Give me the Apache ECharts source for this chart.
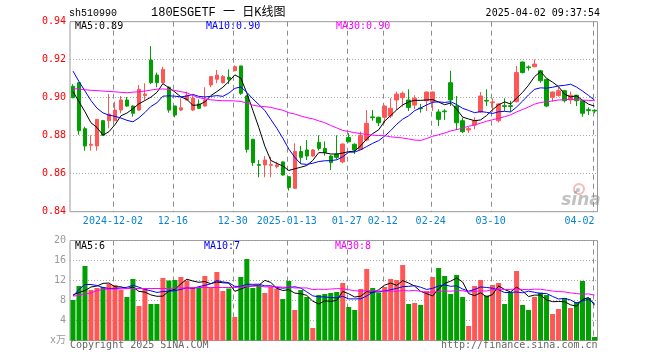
<!DOCTYPE html>
<html><head><meta charset="utf-8">
<script src="https://cdn.jsdelivr.net/npm/echarts/dist/echarts.min.js"></script>
<style>html,body{margin:0;padding:0;background:#fff}#c{width:660px;height:360px}</style>
</head><body><div id="c"></div>
<script>
const categories = ['2024-11-21','2024-11-22','2024-11-25','2024-11-26','2024-11-27','2024-11-28','2024-11-29',
'2024-12-02','2024-12-03','2024-12-04','2024-12-05','2024-12-06','2024-12-09','2024-12-10','2024-12-11','2024-12-12','2024-12-13',
'2024-12-16','2024-12-17','2024-12-18','2024-12-19','2024-12-20','2024-12-23','2024-12-24','2024-12-25','2024-12-26','2024-12-27',
'2024-12-30','2024-12-31','2025-01-02','2025-01-03','2025-01-06','2025-01-07','2025-01-08','2025-01-09','2025-01-10',
'2025-01-13','2025-01-14','2025-01-15','2025-01-16','2025-01-17','2025-01-20','2025-01-21','2025-01-22','2025-01-23','2025-01-24',
'2025-01-27','2025-02-05','2025-02-06','2025-02-07','2025-02-10','2025-02-11',
'2025-02-12','2025-02-13','2025-02-14','2025-02-17','2025-02-18','2025-02-19','2025-02-20','2025-02-21',
'2025-02-24','2025-02-25','2025-02-26','2025-02-27','2025-02-28','2025-03-03','2025-03-04','2025-03-05','2025-03-06','2025-03-07',
'2025-03-10','2025-03-11','2025-03-12','2025-03-13','2025-03-14','2025-03-17','2025-03-18','2025-03-19','2025-03-20','2025-03-21',
'2025-03-24','2025-03-25','2025-03-26','2025-03-27','2025-03-28','2025-03-31','2025-04-01','2025-04-02'];

const openP = [0.9060,0.9079,0.8837,0.8750,0.8746,0.8879,0.8879,0.8879,0.8935,0.8988,
0.8956,0.8935,0.9011,0.9198,0.9119,0.9079,0.9055,0.8956,0.8935,0.8988,
0.8935,0.8967,0.8956,0.9067,0.9097,0.9079,0.9108,0.9142,0.9167,0.9009,
0.8781,0.8648,0.8646,0.8644,0.8637,0.8662,0.8584,0.8523,0.8717,0.8725,
0.8693,0.8765,0.8733,0.8693,0.8704,0.8662,0.8791,0.8755,0.8728,0.8777,
0.8899,0.8897,0.8897,0.8904,0.8988,0.9000,0.8988,0.8961,0.8946,0.8984,
0.8979,0.8925,0.8930,0.9079,0.8956,0.8879,0.8830,0.8856,0.8925,0.8986,
0.8974,0.8879,0.8958,0.8958,0.8979,0.9188,0.9162,0.9163,0.9142,0.9097,
0.9002,0.9011,0.9037,0.8988,0.9013,0.8984,0.8937,0.8934];
const closeP = [0.9000,0.8826,0.8746,0.8755,0.8886,0.8802,0.8914,0.8935,0.8988,0.8956,
0.8918,0.9044,0.9019,0.9079,0.9079,0.9149,0.8935,0.8909,0.8947,0.9013,
0.8997,0.8944,0.8988,0.9111,0.9119,0.9111,0.9097,0.9163,0.9023,0.8728,
0.8658,0.8644,0.8672,0.8648,0.8646,0.8593,0.8528,0.8717,0.8686,0.8693,
0.8725,0.8733,0.8712,0.8658,0.8686,0.8756,0.8768,0.8725,0.8802,0.8865,
0.8895,0.8868,0.8956,0.8944,0.9019,0.9023,0.8949,0.8997,0.8942,0.9030,
0.9030,0.8886,0.8926,0.8988,0.8868,0.8821,0.8837,0.8879,0.9009,0.8982,
0.8978,0.8967,0.8954,0.8954,0.9132,0.9132,0.9158,0.9177,0.9089,0.8956,
0.9030,0.9037,0.8984,0.9013,0.8984,0.8918,0.8933,0.8930];
const lowP = [0.8997,0.8804,0.8721,0.8721,0.8721,0.8800,0.8839,0.8877,0.8918,0.8952,
0.8900,0.8930,0.8988,0.9072,0.9055,0.9075,0.8921,0.8897,0.8930,0.8985,
0.8930,0.8940,0.8953,0.9055,0.9076,0.9075,0.9072,0.9140,0.9015,0.8711,
0.8641,0.8581,0.8581,0.8581,0.8628,0.8590,0.8511,0.8520,0.8653,0.8672,
0.8690,0.8722,0.8695,0.8619,0.8675,0.8655,0.8765,0.8704,0.8725,0.8770,
0.8879,0.8851,0.8865,0.8893,0.8935,0.8953,0.8930,0.8940,0.8921,0.8930,
0.8930,0.8851,0.8883,0.8956,0.8830,0.8814,0.8814,0.8834,0.8920,0.8956,
0.8925,0.8870,0.8930,0.8925,0.8975,0.9128,0.9142,0.9160,0.9079,0.8950,
0.8979,0.9005,0.8975,0.8967,0.8956,0.8900,0.8909,0.8918];
const highP = [0.9071,0.9084,0.8847,0.8802,0.8886,0.8882,0.9019,0.8979,0.9009,0.9004,
0.8960,0.9067,0.9076,0.9272,0.9132,0.9163,0.9060,0.8958,0.8997,0.9032,
0.9013,0.8991,0.9055,0.9113,0.9146,0.9119,0.9149,0.9170,0.9167,0.9015,
0.8783,0.8672,0.8693,0.8689,0.8663,0.8665,0.8586,0.8760,0.8746,0.8777,
0.8730,0.8802,0.8770,0.8700,0.8802,0.8760,0.8813,0.8760,0.8822,0.8935,
0.8935,0.8900,0.8960,0.8997,0.9032,0.9032,0.9044,0.9013,0.8967,0.9032,
0.9032,0.8939,0.8939,0.9142,0.9009,0.8895,0.8847,0.8897,0.9030,0.9044,
0.8997,0.8970,0.8997,0.8984,0.9167,0.9190,0.9170,0.9202,0.9145,0.9100,
0.9032,0.9055,0.9040,0.9032,0.9015,0.8988,0.8949,0.8939];

const ma5P = [0.9032,0.8979,0.8926,0.8868,0.8843,0.8803,0.8821,0.8858,0.8905,0.8919,
0.8942,0.8968,0.8985,0.9003,0.9028,0.9074,0.9052,0.9030,0.9004,0.8991,
0.8960,0.8962,0.8978,0.9011,0.9032,0.9055,0.9085,0.9120,0.9103,0.9024,
0.8934,0.8843,0.8745,0.8670,0.8654,0.8641,0.8617,0.8626,0.8634,0.8643,
0.8670,0.8711,0.8710,0.8704,0.8703,0.8709,0.8716,0.8719,0.8747,0.8783,
0.8811,0.8831,0.8877,0.8906,0.8936,0.8962,0.8978,0.8986,0.8986,0.8988,
0.8990,0.8977,0.8963,0.8972,0.8940,0.8898,0.8888,0.8879,0.8883,0.8906,
0.8937,0.8963,0.8978,0.8967,0.8997,0.9028,0.9066,0.9111,0.9138,0.9102,
0.9082,0.9058,0.9019,0.9004,0.9010,0.8987,0.8966,0.8956];
const ma10P = [0.9140,0.9085,0.9035,0.8985,0.8945,0.8920,0.8908,0.8902,0.8893,0.8881,
0.8873,0.8894,0.8922,0.8954,0.8973,0.9008,0.9010,0.9008,0.9004,0.9009,
0.9017,0.9007,0.9004,0.9007,0.9011,0.9007,0.9024,0.9049,0.9057,0.9028,
0.8994,0.8964,0.8933,0.8886,0.8839,0.8787,0.8730,0.8686,0.8652,0.8649,
0.8655,0.8664,0.8668,0.8669,0.8673,0.8689,0.8713,0.8714,0.8726,0.8743,
0.8760,0.8774,0.8798,0.8827,0.8860,0.8887,0.8905,0.8932,0.8946,0.8962,
0.8976,0.8978,0.8975,0.8979,0.8964,0.8944,0.8933,0.8921,0.8927,0.8923,
0.8917,0.8926,0.8928,0.8925,0.8951,0.8982,0.9015,0.9044,0.9052,0.9050,
0.9055,0.9062,0.9065,0.9071,0.9056,0.9035,0.9012,0.8987];
const ma30P = [0.9048,0.9045,0.9042,0.9039,0.9037,0.9035,0.9033,0.9031,0.9028,0.9026,
0.9029,0.9032,0.9035,0.9040,0.9045,0.9046,0.9043,0.9038,0.9032,0.9025,
0.9012,0.9000,0.8994,0.8989,0.8986,0.8984,0.8984,0.8983,0.8980,0.8973,
0.8961,0.8955,0.8953,0.8949,0.8941,0.8934,0.8921,0.8914,0.8904,0.8895,
0.8889,0.8878,0.8868,0.8854,0.8841,0.8828,0.8822,0.8816,0.8811,0.8807,
0.8803,0.8801,0.8800,0.8794,0.8791,0.8788,0.8783,0.8777,0.8775,0.8785,
0.8797,0.8805,0.8814,0.8825,0.8832,0.8840,0.8850,0.8856,0.8866,0.8876,
0.8884,0.8892,0.8900,0.8910,0.8925,0.8938,0.8951,0.8966,0.8975,0.8978,
0.8983,0.8988,0.8989,0.8992,0.8990,0.8987,0.8986,0.8984];

const volume = [8.1,10.9,14.9,10.1,10.5,10.7,11.3,11.1,10.1,8.7,
12.3,6.9,10.4,7.3,7.3,12.5,12.0,12.1,12.7,12.0,
10.7,10.7,12.9,10.5,13.7,9.9,10.4,4.7,12.7,16.3,
10.5,11.1,9.5,10.7,10.4,8.3,11.9,6.1,10.1,8.7,
2.5,9.1,9.3,9.5,9.7,11.5,6.7,6.1,10.3,14.3,
10.5,9.6,10.7,12.3,12.1,15.1,7.3,7.5,7.1,9.9,
12.7,14.5,12.9,9.3,13.1,8.7,2.9,10.9,12.1,9.0,
11.1,11.5,7.3,9.6,13.9,7.1,6.1,8.7,9.6,9.1,
5.3,6.3,8.5,6.5,7.7,11.9,8.5,0.7];
const ma5V = [9.1,9.6,10.0,10.7,10.9,11.42,11.5,10.74,10.74,10.38,
10.7,9.82,9.68,9.12,8.84,8.88,9.9,10.24,11.32,12.26,
11.9,11.64,11.8,11.36,11.7,11.54,11.48,9.84,10.28,10.8,
10.92,11.06,12.02,11.62,10.44,10.0,10.16,9.48,9.36,9.02,
7.86,7.3,7.94,7.82,8.02,9.82,9.34,8.7,8.86,9.78,
9.58,10.16,11.08,11.48,11.04,11.96,11.5,10.86,9.82,9.38,
8.9,10.34,11.42,11.86,12.5,11.7,9.38,8.98,9.54,8.72,
9.2,10.92,10.2,9.7,10.68,9.88,8.8,9.08,9.08,8.12,
7.76,7.8,7.76,7.14,6.86,8.18,8.62,7.06];
const ma10V = [8.9,10.2,11.2,11.2,11.0,10.6,10.4,10.4,10.5,10.64,
11.06,10.66,10.21,9.93,9.61,9.79,9.86,9.96,10.22,10.55,
10.39,10.77,11.02,11.34,11.98,11.72,11.56,10.82,10.82,11.25,
11.23,11.27,10.93,10.95,10.62,10.46,10.61,10.75,10.49,9.73,
8.93,8.73,8.71,8.59,8.52,8.84,8.32,8.32,8.34,8.9,
9.7,9.75,9.89,10.17,10.41,10.77,10.83,10.97,10.65,10.21,
10.43,10.92,11.14,10.84,10.94,10.3,9.86,10.2,10.7,10.61,
10.45,10.15,9.59,9.62,9.7,9.54,9.86,9.64,9.39,9.4,
8.82,8.3,8.42,8.11,7.49,7.97,8.21,7.41];
const ma30V = [8.9,9.0,9.3,9.5,10.0,10.2,10.3,10.3,10.3,10.4,
10.4,10.4,10.4,10.4,10.4,10.4,10.4,10.5,10.5,10.5,
10.5,10.6,10.6,10.6,10.6,10.6,10.6,10.6,10.7,10.81,
10.89,10.9,10.72,10.74,10.74,10.66,10.68,10.51,10.51,10.51,
10.18,10.26,10.22,10.29,10.37,10.34,10.16,9.96,9.88,9.96,
9.95,9.92,9.84,9.9,9.85,10.02,9.92,10.01,9.83,9.61,
9.69,9.8,9.91,9.87,9.96,9.97,9.67,9.83,9.9,9.91,
10.19,10.27,10.21,10.21,10.35,10.2,10.18,10.27,10.25,10.07,
9.9,9.79,9.72,9.52,9.38,9.27,9.31,9.08];

const tickDates = ['2024-12-02','2024-12-16','2024-12-30','2025-01-13','2025-01-27','2025-02-12','2025-02-24','2025-03-10','2025-04-02'];
const tickTexts = ['2024-12-02','12-16','12-30','2025-01-13','01-27','02-12','02-24','03-10','04-02'];
const priceRange = [0.84, 0.94, 0.02];
const volumeRange = [0, 20, 4];

const RED = '#ff5656', GREEN = '#00a000';
const MONO = '"DejaVu Sans Mono", monospace';
const GRID_L = 70, GRID_W = 527.5;

const chart = echarts.init(document.getElementById('c'));
const isTick = (i, v) => tickDates.indexOf(v) >= 0;
const txt = (text, x, y, fill, font, align) => ({
  type: 'text', x: x, y: y, silent: true,
  style: {text: text, fill: fill, font: font, textAlign: align || 'left', textVerticalAlign: 'middle'}
});
const line = (data, color, xi) => ({
  type: 'line', data: data, xAxisIndex: xi, yAxisIndex: xi, symbol: 'none', silent: true,
  lineStyle: {color: color, width: 1}
});
// vertical dashed date lines: anchored on each tick date's own series value, x from the category axis
const dateLines = (xi, series) => ({
  type: 'custom', xAxisIndex: xi, yAxisIndex: xi,
  data: tickDates.map(d => [d, series[categories.indexOf(d)]]),
  encode: {x: 0, y: 1},
  renderItem: function (params, api) {
    const cs = params.coordSys;
    const x = Math.round(api.coord([api.value(0), api.value(1)])[0] - 2) + 0.5;
    const segs = [];
    for (let y = cs.y; y < cs.y + cs.height; y += 9) {
      segs.push({type: 'line', shape: {x1: x, y1: y, x2: x, y2: Math.min(y + 5, cs.y + cs.height)},
        style: {stroke: '#8c8c8c', lineWidth: 1}});
    }
    return {type: 'group', children: segs};
  }
});

chart.setOption({
  animation: false,
  grid: [
    {left: GRID_L, top: 21.7, width: GRID_W, height: 190, show: true, borderColor: '#999', borderWidth: 1},
    {left: GRID_L, top: 240.5, width: GRID_W, height: 100, show: true, borderColor: '#999', borderWidth: 1}
  ],
  xAxis: [
    {type: 'category', gridIndex: 0, data: categories, boundaryGap: true,
     axisLine: {show: false}, axisTick: {show: false}, splitLine: {show: false},
     axisLabel: {show: true, interval: isTick, margin: 5, color: '#0a84d0', fontFamily: MONO, fontSize: 10,
       formatter: function (v) {
         const j = tickDates.indexOf(v);
         return j === tickDates.length - 1 ? '{e|' + tickTexts[j] + '}' : '{n|' + tickTexts[j] + '}';
       },
       rich: {
         n: {color: '#0a84d0', fontFamily: MONO, fontSize: 10, padding: [0, 4, 0, 0]},
         e: {color: '#0a84d0', fontFamily: MONO, fontSize: 10, padding: [0, 30, 0, 0]}
       }}},
    {type: 'category', gridIndex: 1, data: categories, boundaryGap: true,
     axisLine: {show: false}, axisTick: {show: false}, splitLine: {show: false}, axisLabel: {show: false}}
  ],
  yAxis: [
    {type: 'value', gridIndex: 0, min: priceRange[0], max: priceRange[1], interval: priceRange[2], scale: true,
     axisLine: {show: false}, axisTick: {show: false},
     splitLine: {show: true, lineStyle: {color: '#aaa', width: 1, type: [1, 2]}},
     axisLabel: {color: '#f00', fontFamily: MONO, fontSize: 10, margin: 4, showMinLabel: true, showMaxLabel: true,
       formatter: v => v.toFixed(2)}},
    {type: 'value', gridIndex: 1, min: volumeRange[0], max: volumeRange[1], interval: volumeRange[2],
     axisLine: {show: false}, axisTick: {show: false},
     splitLine: {show: true, lineStyle: {color: '#aaa', width: 1, type: [1, 2]}},
     axisLabel: {color: '#999', fontFamily: MONO + ', "Noto Sans CJK SC"', fontSize: 10, margin: 4,
       showMinLabel: true, showMaxLabel: true,
       formatter: v => v === 0 ? 'x万' : String(v)}}
  ],
  series: [
    dateLines(0, ma30P),
    dateLines(1, ma30V),
    {type: 'candlestick', xAxisIndex: 0, yAxisIndex: 0, barWidth: 4, clip: true, silent: true,
     data: categories.map((c, i) => [openP[i], closeP[i], lowP[i], highP[i]]),
     itemStyle: {color: RED, color0: GREEN, borderColor: RED, borderColor0: GREEN, borderWidth: 1}},
    line(ma5P, '#000', 0), line(ma10P, '#0000ff', 0), line(ma30P, '#ff00ff', 0),
    {type: 'bar', xAxisIndex: 1, yAxisIndex: 1, barWidth: 5, silent: true,
     data: volume,
     itemStyle: {color: p => closeP[p.dataIndex] >= openP[p.dataIndex] ? RED : GREEN}},
    line(ma5V, '#000', 1), line(ma10V, '#0000ff', 1), line(ma30V, '#ff00ff', 1)
  ],
  graphic: [
    txt('sh510990', 69, 13, '#000', '10px "Liberation Mono", monospace'),
    txt('180ESGETF 一 日K线图', 151, 13, '#000', '12px "Liberation Mono", "Noto Sans CJK SC"'),
    txt('2025-04-02 09:37:54', 600, 13, '#000', '10px ' + MONO, 'right'),
    txt('MA5:0.89', 75, 26.5, '#000', '10px ' + MONO),
    txt('MA10:0.90', 206, 26.5, '#0000ff', '10px ' + MONO),
    txt('MA30:0.90', 336, 26.5, '#ff00ff', '10px ' + MONO),
    txt('MA5:6', 75, 246.5, '#000', '10px ' + MONO),
    txt('MA10:7', 204, 246.5, '#0000ff', '10px ' + MONO),
    txt('MA30:8', 335, 246.5, '#ff00ff', '10px ' + MONO),
    txt('Copyright 2025 SINA.COM', 70, 345.5, '#666', '10px ' + MONO),
    txt('http://finance.sina.com.cn', 597.5, 345.5, '#666', '10px ' + MONO, 'right'),
    {type: 'circle', shape: {cx: 579, cy: 189, r: 5}, silent: true,
     style: {fill: 'none', stroke: 'rgba(240,140,140,0.6)', lineWidth: 2}},
    {type: 'circle', shape: {cx: 578, cy: 190, r: 2}, silent: true,
     style: {fill: 'rgba(150,150,150,0.6)'}},
    txt('sina', 581, 201, 'rgba(140,140,140,0.55)', 'italic bold 17px "DejaVu Sans", sans-serif', 'center')
  ]
});
</script></body></html>
